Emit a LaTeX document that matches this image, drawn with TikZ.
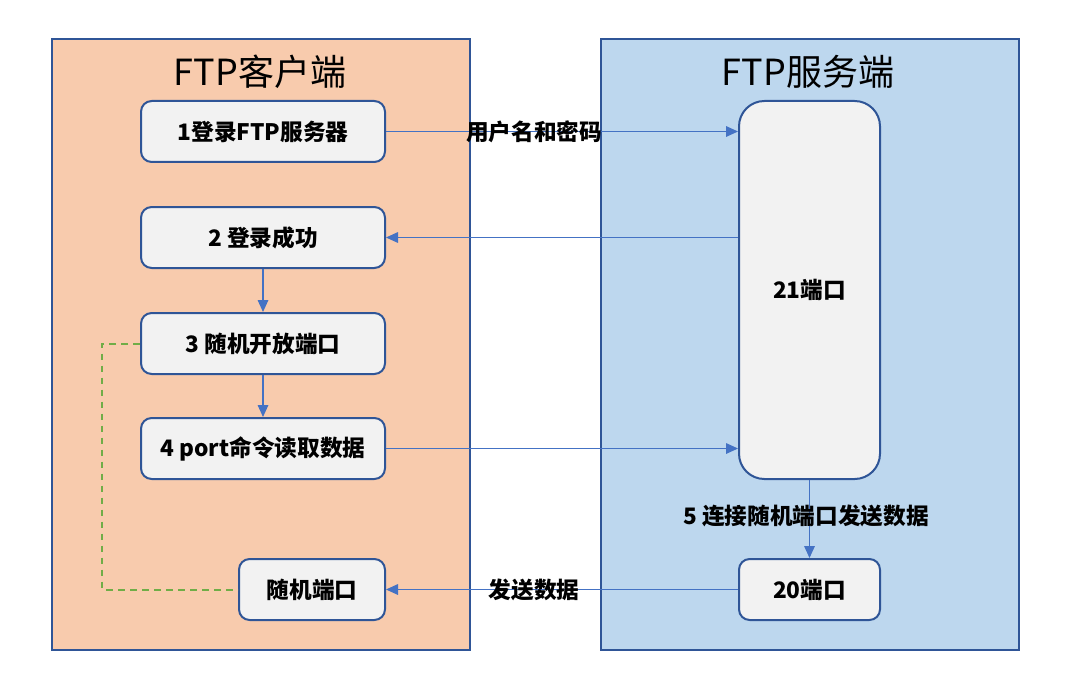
\documentclass[tikz,border=0pt]{standalone}
\usepackage{fontspec}
\setmainfont{Noto Sans CJK SC}
\usetikzlibrary{arrows.meta}

\definecolor{clientbg}{HTML}{F8CBAD}
\definecolor{serverbg}{HTML}{BDD7EE}
\definecolor{frame}{HTML}{2F5597}
\definecolor{boxfill}{HTML}{F2F2F2}
\definecolor{link}{HTML}{4472C4}
\definecolor{dashgreen}{HTML}{70AD47}

\begin{document}
\begin{tikzpicture}[x=0.75pt, y=-0.75pt,
    panel/.style={draw=frame, line width=1.5pt, minimum width=418*0.75pt, minimum height=611*0.75pt},
    stepbox/.style={draw=frame, line width=1.5pt, fill=boxfill, rounded corners=8pt,
        minimum height=61*0.75pt, font=\fontsize{17}{19}\selectfont\bfseries},
    msg/.style={draw=link, line width=0.8pt, -{Triangle[length=9pt, width=8pt]}},
    lbl/.style={font=\fontsize{17}{19}\selectfont\bfseries, inner sep=0pt}]
    \useasboundingbox (0,0) rectangle (1070,688);

    % Client and server panels
    \node[panel, fill=clientbg] (client) at (261,344.5) {};
    \node[panel, fill=serverbg] (server) at (809.5,344.5) {};
    \node[font=\fontsize{27}{30}\selectfont] (clienttitle) at (260,72) {FTP客户端};
    \node[font=\fontsize{27}{30}\selectfont] (servertitle) at (808,72) {FTP服务端};

    % Client steps
    \node[stepbox, minimum width=244*0.75pt] (login) at (263,131.5) {1登录FTP服务器};
    \node[stepbox, minimum width=244*0.75pt] (ok) at (263,237.5) {2 登录成功};
    \node[stepbox, minimum width=244*0.75pt] (open) at (263,343.5) {3 随机开放端口};
    \node[stepbox, minimum width=244*0.75pt] (port) at (263,448.5) {4 port命令读取数据};
    \node[stepbox, minimum width=146*0.75pt] (rand) at (312,589.5) {随机端口};

    % Server ports
    \node[stepbox, minimum width=141*0.75pt, minimum height=378*0.75pt, rounded corners=19pt] (p21) at (809.5,290) {21端口};
    \node[stepbox, minimum width=141*0.75pt] (p20) at (809.5,589.5) {20端口};

    % Messages
    \draw[msg] (login.east) -- (p21.west |- login.east);
    \node[lbl] (userpass) at (534,132) {用户名和密码};
    \draw[msg] (p21.west |- ok.east) -- (ok.east);
    \draw[msg] (ok.south) -- (open.north);
    \draw[msg] (open.south) -- (port.north);
    \draw[msg] (port.east) -- (p21.west |- port.east);
    \draw[msg] (p21.south) -- (p20.north);
    \node[lbl] (connect) at (806,516) {5 连接随机端口发送数据};
    \draw[msg] (p20.west) -- (rand.east);
    \node[lbl] (send) at (534,590) {发送数据};

    % Random port link
    \draw[draw=dashgreen, line width=1.5pt, dash pattern=on 5pt off 4pt] (open.west) -- ++(-38,0) |- (rand.west);
\end{tikzpicture}
\end{document}
